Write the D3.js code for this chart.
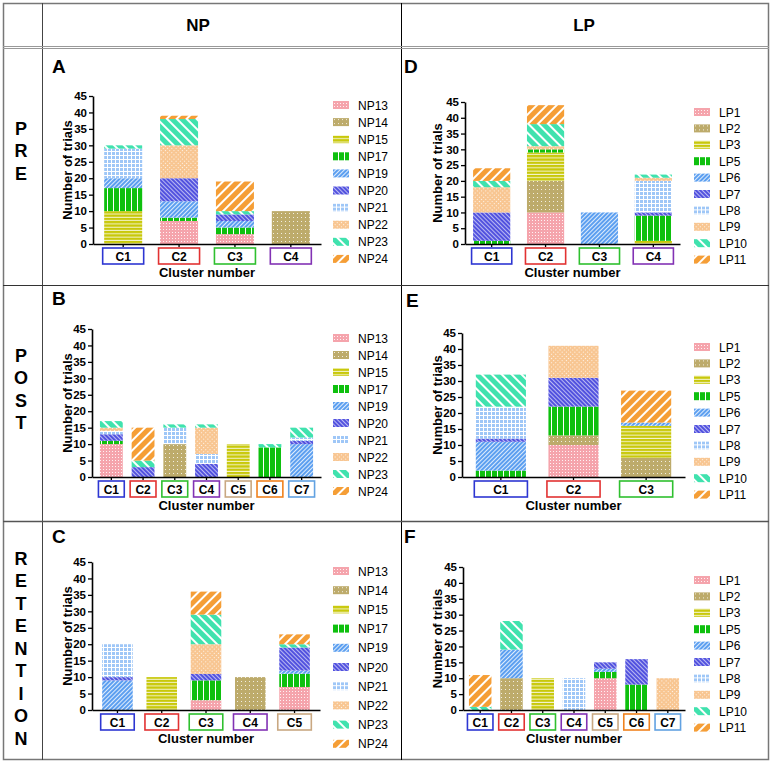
<!DOCTYPE html>
<html><head><meta charset="utf-8">
<script src="https://cdn.jsdelivr.net/npm/d3@7"></script>
<style>body{margin:0;background:#fff}svg text{font-family:"Liberation Sans",Arial,sans-serif}</style>
</head><body><svg id="c" width="772" height="764"></svg>
<script>
// ---------- DATA ----------
const npSeries = ["NP13","NP14","NP15","NP17","NP19","NP20","NP21","NP22","NP23","NP24"];
const lpSeries = ["LP1","LP2","LP3","LP5","LP6","LP7","LP8","LP9","LP10","LP11"];
const columnTitles = ["NP","LP"];
const rowTitles = ["PRE","POST","RETENTION"];
const yTicks = [0,5,10,15,20,25,30,35,40,45];

// rows = series (in legend order), columns = clusters
const clustersA = ["C1","C2","C3","C4"];
const valuesA = [
  [0,7,3,0],[0,0,0,10],[10,0,0,0],[7,1,2,0],[3,5,2,0],
  [0,7,2,0],[9,0,0,0],[0,10,0,0],[1,8,1,0],[0,1,9,0]
];
const clustersB = ["C1","C2","C3","C4","C5","C6","C7"];
const valuesB = [
  [10,0,0,0,0,0,0],[0,0,10,0,0,0,0],[0,0,0,0,10,0,0],[1,0,0,0,0,9,0],[0,0,0,0,0,0,10],
  [2,3,0,4,0,0,1],[1,0,5,3,0,0,1],[1,0,0,8,0,0,0],[2,2,1,1,0,1,3],[0,10,0,0,0,0,0]
];
const clustersC = ["C1","C2","C3","C4","C5"];
const valuesC = [
  [0,0,3,0,7],[0,0,0,10,0],[0,10,0,0,0],[0,0,6,0,4],[9,0,0,0,1],
  [1,0,2,0,7],[10,0,0,0,0],[0,0,9,0,0],[0,0,9,0,1],[0,0,7,0,3]
];
const clustersD = ["C1","C2","C3","C4"];
const valuesD = [
  [0,10,0,0],[0,10,0,0],[0,9,0,1],[1,1,0,8],[0,0,10,0],
  [9,0,0,1],[0,0,0,10],[8,1,0,1],[2,7,0,1],[4,6,0,0]
];
const clustersE = ["C1","C2","C3"];
const valuesE = [
  [0,10,0],[0,3,6],[0,0,10],[2,9,0],[9,0,1],
  [1,9,0],[10,0,0],[0,10,0],[10,0,0],[0,0,10]
];
const clustersF = ["C1","C2","C3","C4","C5","C6","C7"];
const valuesF = [
  [0,0,0,0,10,0,0],[0,10,0,0,0,0,0],[0,0,10,0,0,0,0],[0,0,0,0,2,8,0],[0,9,0,0,1,0,0],
  [0,0,0,0,2,8,0],[0,0,0,10,0,0,0],[0,0,0,0,0,0,10],[1,9,0,0,0,0,0],[10,0,0,0,0,0,0]
];

// ---------- STYLE ----------
const baseColors = ["#f5a4ac","#bdab6b","#c8c80a","#0ec00e","#5c9ff0","#5252df","#9fc7f7","#f8c692","#40e2ae","#f59e36"];
const boxColors = {C1:"#2d36d2",C2:"#e23232",C3:"#2fc02f",C4:"#8232b4",C5:"#c9a882",C6:"#f0821e",C7:"#62a2e2"};

const svg = d3.select("#c");
const defs = svg.append("defs");

function makePattern(id, w, h, base, transform, drawFn){
  const p = defs.append("pattern").attr("id", id).attr("patternUnits","userSpaceOnUse")
    .attr("width", w).attr("height", h);
  if (transform) p.attr("patternTransform", transform);
  p.append("rect").attr("width", w).attr("height", h).attr("fill", base);
  drawFn(p);
}
const W = "#ffffff";
// 0 pink dots
makePattern("p0",3,3,baseColors[0],null,p=>{p.append("rect").attr("x",1).attr("y",1).attr("width",1).attr("height",1).attr("fill",W).attr("opacity",0.85);});
// 1 khaki dots
makePattern("p1",4,4,baseColors[1],null,p=>{p.append("rect").attr("x",1).attr("y",1).attr("width",1).attr("height",1).attr("fill",W).attr("opacity",0.8);});
// 2 yellow horizontal lines
makePattern("p2",4,3.3,baseColors[2],null,p=>{p.append("rect").attr("x",0).attr("y",2.3).attr("width",4).attr("height",1).attr("fill",W).attr("opacity",0.8);});
// 3 green vertical lines
makePattern("p3",6,4,baseColors[3],null,p=>{p.append("rect").attr("x",5).attr("y",0).attr("width",1).attr("height",4).attr("fill",W);});
// 4 light blue "/" fine
makePattern("p4",3,3,baseColors[4],"rotate(45)",p=>{p.append("rect").attr("x",2).attr("y",0).attr("width",1).attr("height",3).attr("fill",W).attr("opacity",0.8);});
// 5 blue "\" fine
makePattern("p5",3,3,baseColors[5],"rotate(-45)",p=>{p.append("rect").attr("x",2).attr("y",0).attr("width",1).attr("height",3).attr("fill",W).attr("opacity",0.6);});
// 6 light blue grid
makePattern("p6",4,4,baseColors[6],null,p=>{
  p.append("rect").attr("x",3).attr("y",0).attr("width",1).attr("height",4).attr("fill",W);
  p.append("rect").attr("x",0).attr("y",3).attr("width",4).attr("height",1).attr("fill",W);});
// 7 peach dotted
makePattern("p7",3,3,baseColors[7],"rotate(45)",p=>{p.append("rect").attr("x",1).attr("y",1).attr("width",1).attr("height",1).attr("fill",W).attr("opacity",0.8);});
// 8 aqua "\" wide
makePattern("p8",7,7,baseColors[8],"rotate(-45)",p=>{p.append("rect").attr("x",5).attr("y",0).attr("width",2).attr("height",7).attr("fill",W);});
// 9 orange "/" wide
makePattern("p9",7,7,baseColors[9],"rotate(45)",p=>{p.append("rect").attr("x",5).attr("y",0).attr("width",2).attr("height",7).attr("fill",W);});

// ---------- TABLE ----------
const table = svg.append("g");
table.append("rect").attr("x",3.5).attr("y",3.5).attr("width",765).attr("height",756).attr("fill","none").attr("stroke","#777").attr("stroke-width",1.5);
table.append("line").attr("x1",42.5).attr("x2",42.5).attr("y1",3).attr("y2",760).attr("stroke","#444");
table.append("line").attr("x1",401.5).attr("x2",401.5).attr("y1",3).attr("y2",760).attr("stroke","#000");
table.append("line").attr("x1",3).attr("x2",769).attr("y1",46.5).attr("y2",46.5).attr("stroke","#999");
table.append("line").attr("x1",3).attr("x2",769).attr("y1",48.5).attr("y2",48.5).attr("stroke","#999");
table.append("line").attr("x1",3).attr("x2",769).attr("y1",285.5).attr("y2",285.5).attr("stroke","#333");
table.append("line").attr("x1",3).attr("x2",769).attr("y1",521.5).attr("y2",521.5).attr("stroke","#555").attr("stroke-width",1.5);

const colTitleX = [198, 584];
columnTitles.forEach((t,i)=>{
  svg.append("text").attr("x",colTitleX[i]).attr("y",31).attr("text-anchor","middle")
    .attr("font-weight","bold").attr("font-size",17).text(t);
});
const rowLetterStart = [128, 355, 558];
rowTitles.forEach((t,i)=>{
  t.split("").forEach((ch,j)=>{
    svg.append("text").attr("x",21).attr("y",rowLetterStart[i]+j*22.5+6.5).attr("text-anchor","middle")
      .attr("font-weight","bold").attr("font-size",18).text(ch);
  });
});

// ---------- PANELS ----------
const panels = [
  {letter:"A", names:npSeries, clusters:clustersA, values:valuesA, x0:93, x1:321, yb:244, yt:96,  pi:0.32, po:0.2,  lx:333, ly:105, ls:17.1, letX:52,  letY:73,  ylabX:67},
  {letter:"B", names:npSeries, clusters:clustersB, values:valuesB, x0:92, x1:321, yb:477, yt:329, pi:0.28, po:0.25, lx:333, ly:338, ls:17,   letX:52,  letY:305, ylabX:67},
  {letter:"C", names:npSeries, clusters:clustersC, values:valuesC, x0:92, x1:320, yb:710, yt:562, pi:0.31, po:0.23, lx:333, ly:571, ls:19.2, letX:52,  letY:543, ylabX:67},
  {letter:"D", names:lpSeries, clusters:clustersD, values:valuesD, x0:465,x1:680, yb:244, yt:102, pi:0.31, po:0.15, lx:694, ly:112, ls:16.4, letX:404, letY:73,  ylabX:437},
  {letter:"E", names:lpSeries, clusters:clustersE, values:valuesE, x0:462,x1:685, yb:477, yt:333, pi:0.31, po:0.19, lx:694, ly:347, ls:16.4, letX:406, letY:307, ylabX:437},
  {letter:"F", names:lpSeries, clusters:clustersF, values:valuesF, x0:463,x1:685, yb:710, yt:567, pi:0.28, po:0.19, lx:694, ly:580, ls:16.4, letX:404, letY:543, ylabX:437}
];

panels.forEach(P=>{
  const g = svg.append("g");
  const y = d3.scaleLinear().domain([0,45]).range([P.yb, P.yt]);
  const x = d3.scaleBand().domain(P.clusters).range([P.x0, P.x1]).paddingInner(P.pi).paddingOuter(P.po);
  const rows = P.clusters.map((c,ci)=>{
    const r = {cluster:c};
    P.names.forEach((n,si)=>{ r[si] = P.values[si][ci]; });
    return r;
  });
  const stacked = d3.stack().keys(d3.range(P.names.length))(rows);
  stacked.forEach((layer,si)=>{
    g.append("g").selectAll("rect").data(layer.filter(d=>d[1]-d[0]>0)).join("rect")
      .attr("x", d=>x(d.data.cluster))
      .attr("width", x.bandwidth())
      .attr("y", d=>y(d[1]))
      .attr("height", d=>y(d[0])-y(d[1]))
      .attr("fill", `url(#p${si})`);
  });
  // y axis
  const ya = g.append("g").attr("transform",`translate(${P.x0},0)`)
    .call(d3.axisLeft(y).tickValues(yTicks).tickSize(4).tickSizeOuter(0).tickPadding(2));
  ya.select(".domain").attr("stroke","#000").attr("stroke-width",1.6);
  ya.selectAll(".tick line").attr("stroke","#000").attr("stroke-width",1.3);
  ya.selectAll(".tick text").attr("font-weight","bold").attr("font-size",11.5).attr("fill","#000")
    .style("font-family",'"Liberation Sans",Arial,sans-serif');
  // x axis
  const xa = g.append("g").attr("transform",`translate(0,${P.yb})`)
    .call(d3.axisBottom(x).tickSize(3).tickSizeOuter(0).tickFormat(""));
  xa.select(".domain").attr("stroke","#000").attr("stroke-width",1.6);
  xa.selectAll(".tick line").attr("stroke","#000").attr("stroke-width",1.3);
  // cluster boxes
  const bw = x.bandwidth()+3;
  const bx = g.append("g").selectAll("g").data(P.clusters).join("g")
    .attr("transform", c=>`translate(${x(c)+x.bandwidth()/2},${P.yb+4})`);
  bx.append("rect").attr("x",-bw/2).attr("y",0).attr("width",bw).attr("height",16)
    .attr("fill","#fff").attr("stroke",c=>boxColors[c]).attr("stroke-width",1.6);
  bx.append("text").attr("y",12.5).attr("text-anchor","middle").attr("font-weight","bold")
    .attr("font-size",12).text(c=>c);
  // axis titles
  g.append("text").attr("x",(P.x0+P.x1)/2).attr("y",P.yb+33).attr("text-anchor","middle")
    .attr("font-weight","bold").attr("font-size",13).text("Cluster number");
  g.append("text").attr("transform",`translate(${P.ylabX+5},${(P.yb+P.yt)/2}) rotate(-90)`)
    .attr("text-anchor","middle").attr("font-weight","bold").attr("font-size",13).text("Number of trials");
  // panel letter
  g.append("text").attr("x",P.letX).attr("y",P.letY).attr("font-weight","bold").attr("font-size",19).text(P.letter);
  // legend
  const lg = g.append("g").selectAll("g").data(P.names).join("g")
    .attr("transform",(d,i)=>`translate(${P.lx},${P.ly+i*P.ls})`);
  lg.append("rect").attr("x",0).attr("y",-4).attr("width",16).attr("height",8).attr("fill",(d,i)=>`url(#p${i})`);
  lg.append("text").attr("x",25).attr("y",4.5).attr("font-size",12).text(d=>d);
});
</script></body></html>
